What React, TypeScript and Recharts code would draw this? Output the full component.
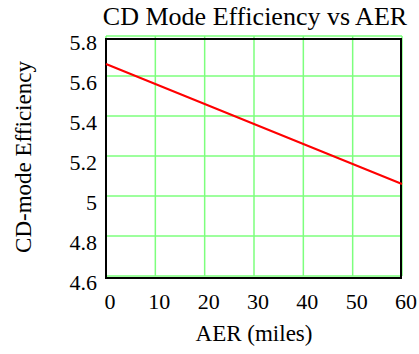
import {
  CartesianGrid,
  Line,
  LineChart,
  ReferenceArea,
  XAxis,
  YAxis,
} from 'recharts';

// AER (miles) vs CD-mode efficiency
const aerMiles = [0, 10, 20, 30, 40, 50, 60];
const cdEfficiency = [5.66, 5.56, 5.46, 5.36, 5.26, 5.16, 5.06];

const xTicks = [0, 10, 20, 30, 40, 50, 60];
const yTicks = [4.6, 4.8, 5, 5.2, 5.4, 5.6, 5.8];

const chartTitle = 'CD Mode Efficiency vs AER';
const xLabel = 'AER (miles)';
const yLabel = 'CD-mode Efficiency';

const data = aerMiles.map((aer, i) => ({ aer, eff: cdEfficiency[i] }));

const FONT = 'Liberation Serif';

// black frame sits a couple of px below the top green grid line
const Frame = ({ x, y, width, height }: any) => (
  <rect x={x} y={y + 3} width={width - 1} height={height - 1} fill="none" stroke="#000" strokeWidth={2} />
);

export default function App() {
  return (
    <div style={{ position: 'absolute', left: 0, top: 0, width: 419, height: 354, background: '#fff' }}>
      <LineChart
        width={419}
        height={354}
        data={data}
        margin={{ top: 36, right: 17, left: 0, bottom: 0 }}
      >
        <CartesianGrid stroke="#7dff7d" strokeWidth={1.5} />
        <XAxis
          dataKey="aer"
          type="number"
          domain={[0, 60]}
          ticks={xTicks}
          axisLine={false}
          tickLine={false}
          tick={{ fontFamily: FONT, fontSize: 22, fill: '#000', dx: 4, dy: 9 }}
          height={78}
        />
        <YAxis
          type="number"
          domain={[4.6, 5.8]}
          ticks={yTicks}
          axisLine={false}
          tickLine={false}
          tick={{ fontFamily: FONT, fontSize: 22, fill: '#000', dx: -1, dy: 6 }}
          width={106}
        />
        <ReferenceArea x1={0} x2={60} y1={4.6} y2={5.8} shape={<Frame />} />
        <Line
          type="linear"
          dataKey="eff"
          stroke="#ff0000"
          strokeWidth={2}
          dot={false}
          isAnimationActive={false}
        />
        <text x={255} y={25} textAnchor="middle" fontFamily={FONT} fontSize={26} fill="#000">
          {chartTitle}
        </text>
        <text x={254} y={341} textAnchor="middle" fontFamily={FONT} fontSize={23} fill="#000">
          {xLabel}
        </text>
        <text
          x={31}
          y={157}
          transform="rotate(-90 31 157)"
          textAnchor="middle"
          fontFamily={FONT}
          fontSize={23}
          fill="#000"
        >
          {yLabel}
        </text>
      </LineChart>
    </div>
  );
}
